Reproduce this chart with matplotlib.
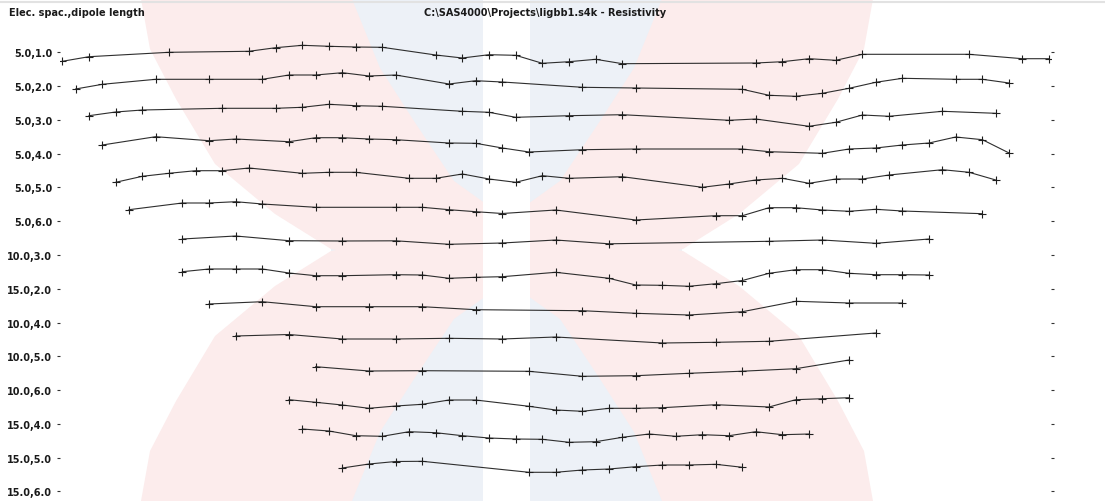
import matplotlib
matplotlib.use("Agg")
import matplotlib.pyplot as plt
from matplotlib.patches import Polygon, Rectangle

W, H, DPI = 1105, 502, 100

title = "C:\\SAS4000\\Projects\\ligbb1.s4k - Resistivity"
axis_title = "Elec. spac.,dipole length"

row_labels = ["5.0,1.0", "5.0,2.0", "5.0,3.0", "5.0,4.0", "5.0,5.0", "5.0,6.0",
              "10.0,3.0", "15.0,2.0", "10.0,4.0", "10.0,5.0", "10.0,6.0",
              "15.0,4.0", "15.0,5.0", "15.0,6.0"]

# Station positions (in electrode-spacing units) and plotted levels of each profile
st_5_1 = [0, 1, 4, 7, 8, 9, 10, 11, 12, 14, 15, 16, 17, 18, 19, 20, 21, 26, 27, 28, 29, 30, 34, 36, 37]
lv_5_1 = [62.3, 57.7, 53.3, 52.3, 48.7, 46.3, 47.3, 48.0, 48.3, 56.0, 59.0, 55.7, 56.3, 64.3, 62.7,
          60.3, 64.7, 64.0, 62.7, 59.7, 61.3, 55.3, 55.3, 59.7, 59.7]

st_5_2 = [0.5, 1.5, 3.5, 5.5, 7.5, 8.5, 9.5, 10.5, 11.5, 12.5, 14.5, 15.5, 16.5, 19.5, 21.5, 25.5,
          26.5, 27.5, 28.5, 29.5, 30.5, 31.5, 33.5, 34.5, 35.5]
lv_5_2 = [90.0, 85.3, 80.3, 80.3, 80.3, 76.0, 76.0, 73.7, 77.0, 76.0, 85.0, 81.7, 83.0, 88.3, 89.0,
          90.3, 96.3, 97.3, 94.3, 89.3, 83.3, 79.3, 80.3, 80.3, 84.0]

st_5_3 = [1, 2, 3, 6, 8, 9, 10, 11, 12, 15, 16, 17, 19, 21, 25, 26, 28, 29, 30, 31, 33, 35]
lv_5_3 = [116.7, 113.0, 111.0, 109.3, 109.3, 108.3, 105.3, 106.7, 107.3, 112.3, 113.3, 118.3,
          116.7, 115.7, 121.3, 120.0, 127.3, 123.3, 116.0, 117.3, 112.3, 114.3]

st_5_4 = [1.5, 3.5, 5.5, 6.5, 8.5, 9.5, 10.5, 11.5, 12.5, 14.5, 15.5, 16.5, 17.5, 19.5, 21.5, 25.5,
          26.5, 28.5, 29.5, 30.5, 31.5, 32.5, 33.5, 34.5, 35.5]
lv_5_4 = [146.0, 137.7, 141.7, 140.0, 142.7, 138.7, 138.7, 140.0, 140.7, 144.0, 144.3, 149.0, 153.0,
          150.7, 150.0, 150.0, 152.7, 154.3, 150.0, 149.0, 146.0, 144.0, 138.0, 140.7, 154.0]

st_5_5 = [2, 3, 4, 5, 6, 7, 9, 10, 11, 13, 14, 15, 16, 17, 18, 19, 21, 24, 25, 26, 27, 28, 29, 30,
          31, 33, 34, 35]
lv_5_5 = [183.3, 177.3, 174.3, 171.7, 171.7, 169.0, 174.3, 173.3, 173.3, 179.3, 179.3, 175.0, 180.0,
          183.3, 176.7, 179.3, 177.7, 188.3, 185.0, 181.0, 179.3, 184.3, 180.0, 180.0, 176.0, 170.7,
          173.3, 181.0]

st_5_6 = [2.5, 4.5, 5.5, 6.5, 7.5, 9.5, 12.5, 13.5, 14.5, 15.5, 16.5, 18.5, 21.5, 24.5, 25.5, 26.5,
          27.5, 28.5, 29.5, 30.5, 31.5, 34.5]
lv_5_6 = [210.7, 204.0, 204.0, 202.7, 205.0, 208.3, 208.3, 208.3, 210.7, 212.7, 214.5, 211.0, 221.0,
          216.7, 216.7, 208.7, 208.7, 211.0, 212.3, 210.3, 212.0, 214.7]

st_10_3 = [4.5, 6.5, 8.5, 10.5, 12.5, 14.5, 16.5, 18.5, 20.5, 26.5, 28.5, 30.5, 32.5]
lv_10_3 = [240.0, 237.0, 241.7, 242.0, 241.8, 245.3, 244.0, 241.0, 244.8, 242.3, 241.0, 244.3, 240.0]

st_15_2 = [4.5, 5.5, 6.5, 7.5, 8.5, 9.5, 10.5, 12.5, 13.5, 14.5, 15.5, 16.5, 18.5, 20.5, 21.5, 22.5,
           23.5, 24.5, 25.5, 26.5, 27.5, 28.5, 29.5, 30.5, 31.5, 32.5]
lv_15_2 = [272.7, 270.0, 270.0, 270.0, 274.0, 276.7, 276.7, 275.7, 276.0, 279.3, 278.3, 277.7, 273.3,
           279.3, 286.0, 286.3, 287.3, 284.7, 281.5, 274.3, 270.7, 270.7, 274.3, 275.7, 275.7, 276.0]

st_10_4 = [5.5, 7.5, 9.5, 11.5, 13.5, 15.5, 19.5, 21.5, 23.5, 25.5, 27.5, 29.5, 31.5]
lv_10_4 = [305.0, 302.7, 307.7, 307.7, 307.7, 310.7, 311.7, 314.3, 316.0, 312.7, 302.3, 304.0, 304.0]

st_10_5 = [6.5, 8.5, 10.5, 12.5, 14.5, 16.5, 18.5, 22.5, 24.5, 26.5, 30.5]
lv_10_5 = [337.0, 335.5, 340.0, 340.0, 339.3, 340.0, 338.0, 344.0, 343.3, 342.3, 334.0]

st_10_6 = [9.5, 11.5, 13.5, 17.5, 19.5, 21.5, 23.5, 25.5, 27.5, 29.5]
lv_10_6 = [367.7, 372.0, 371.7, 372.3, 377.3, 376.7, 374.3, 372.2, 369.7, 361.0]

st_15_4 = [8.5, 9.5, 10.5, 11.5, 12.5, 13.5, 14.5, 15.5, 17.5, 18.5, 19.5, 20.5, 21.5, 22.5, 24.5,
           26.5, 27.5, 28.5, 29.5]
lv_15_4 = [400.7, 403.3, 406.0, 409.3, 407.0, 405.3, 401.0, 401.0, 407.3, 411.0, 412.3, 409.3, 409.3,
           408.7, 405.7, 408.0, 400.7, 399.7, 398.7]

st_15_5 = [9, 10, 11, 12, 13, 14, 15, 16, 17, 18, 19, 20, 21, 22, 23, 24, 25, 26, 27, 28]
lv_15_5 = [430.0, 432.0, 436.7, 437.3, 432.7, 433.7, 436.7, 439.0, 440.0, 440.3, 443.3, 442.7, 438.3,
           435.0, 437.3, 435.7, 436.7, 432.7, 435.7, 435.0]

st_15_6 = [10.5, 11.5, 12.5, 13.5, 17.5, 18.5, 19.5, 20.5, 21.5, 22.5, 23.5, 24.5, 25.5]
lv_15_6 = [469.0, 465.0, 462.5, 462.3, 473.3, 473.3, 471.0, 470.0, 467.7, 466.0, 466.0, 465.3, 468.3]

profiles = [(st_5_1, lv_5_1), (st_5_2, lv_5_2), (st_5_3, lv_5_3), (st_5_4, lv_5_4),
            (st_5_5, lv_5_5), (st_5_6, lv_5_6), (st_10_3, lv_10_3), (st_15_2, lv_15_2),
            (st_10_4, lv_10_4), (st_10_5, lv_10_5), (st_10_6, lv_10_6), (st_15_4, lv_15_4),
            (st_15_5, lv_15_5), (st_15_6, lv_15_6)]

fig = plt.figure(figsize=(W / DPI, H / DPI), dpi=DPI)
fig.patch.set_facecolor("white")

# faint backdrop: two crossing bands over vertical strips
bg = fig.add_axes([0, 0, 1, 1], zorder=0)
bg.set_xlim(0, W)
bg.set_ylim(H, 0)
bg.axis("off")
pink = "#fcecec"
blue = "#edf1f7"
bg.add_patch(Rectangle((331, 0), 152, H, color=blue, lw=0))
bg.add_patch(Rectangle((530, 0), 152, H, color=blue, lw=0))
left_edge = [(141, 0), (150, 50), (176, 100), (215, 165), (275, 215), (331, 250), (420, 268),
             (507, 282), (560, 320), (600, 380), (634, 433), (662, 502)]
right_edge = [(1014 - x, 502 - y) for x, y in left_edge]
band_a = left_edge + right_edge
band_b = [(1014 - x, y) for x, y in band_a]
bg.add_patch(Polygon(band_a, closed=True, color=pink, lw=0))
bg.add_patch(Polygon(band_b, closed=True, color=pink, lw=0))
bg.add_patch(Rectangle((483, 0), 47, H, color="white", lw=0))
bg.plot([0, W], [3, 3], color="#e2e2e2", lw=1.5)

# profile panel
left_px, right_px = 60, 1051
ax = fig.add_axes([left_px / W, 0, (right_px - left_px) / W, 1], zorder=1)
ax.patch.set_alpha(0)
spacing_px = 26.67
first_px = 62.3
ax.set_xlim((left_px - first_px) / spacing_px, (right_px - first_px) / spacing_px)
ax.set_ylim(H, 0)

for st, lv in profiles:
    ax.plot(st, lv, color="#2e2e2e", lw=0.8, marker="+", markersize=5.5,
            markeredgewidth=0.8, markeredgecolor="#1e1e1e")

tick_pos = [53.3 + 33.78 * i for i in range(len(row_labels))]
ax.set_yticks(tick_pos)
ax.set_yticklabels(row_labels, fontsize=7, fontweight="bold", color="#1a1a1a",
                   family="DejaVu Sans")
ax.set_xticks([])
ax.tick_params(axis="y", direction="out", length=2.2, width=0.8, color="#333333",
               pad=3.4, right=True, labelright=False)
for sp in ax.spines.values():
    sp.set_visible(False)

fig.text(9 / W, 1 - 12.5 / H, axis_title, ha="left", va="center", fontsize=7,
         fontweight="bold", color="#1a1a1a", family="DejaVu Sans")
fig.text(545.5 / W, 1 - 13.5 / H, title, ha="center", va="center", fontsize=7,
         fontweight="bold", color="#1a1a1a", family="DejaVu Sans")

fig.savefig("out.png", dpi=DPI, facecolor="white")
